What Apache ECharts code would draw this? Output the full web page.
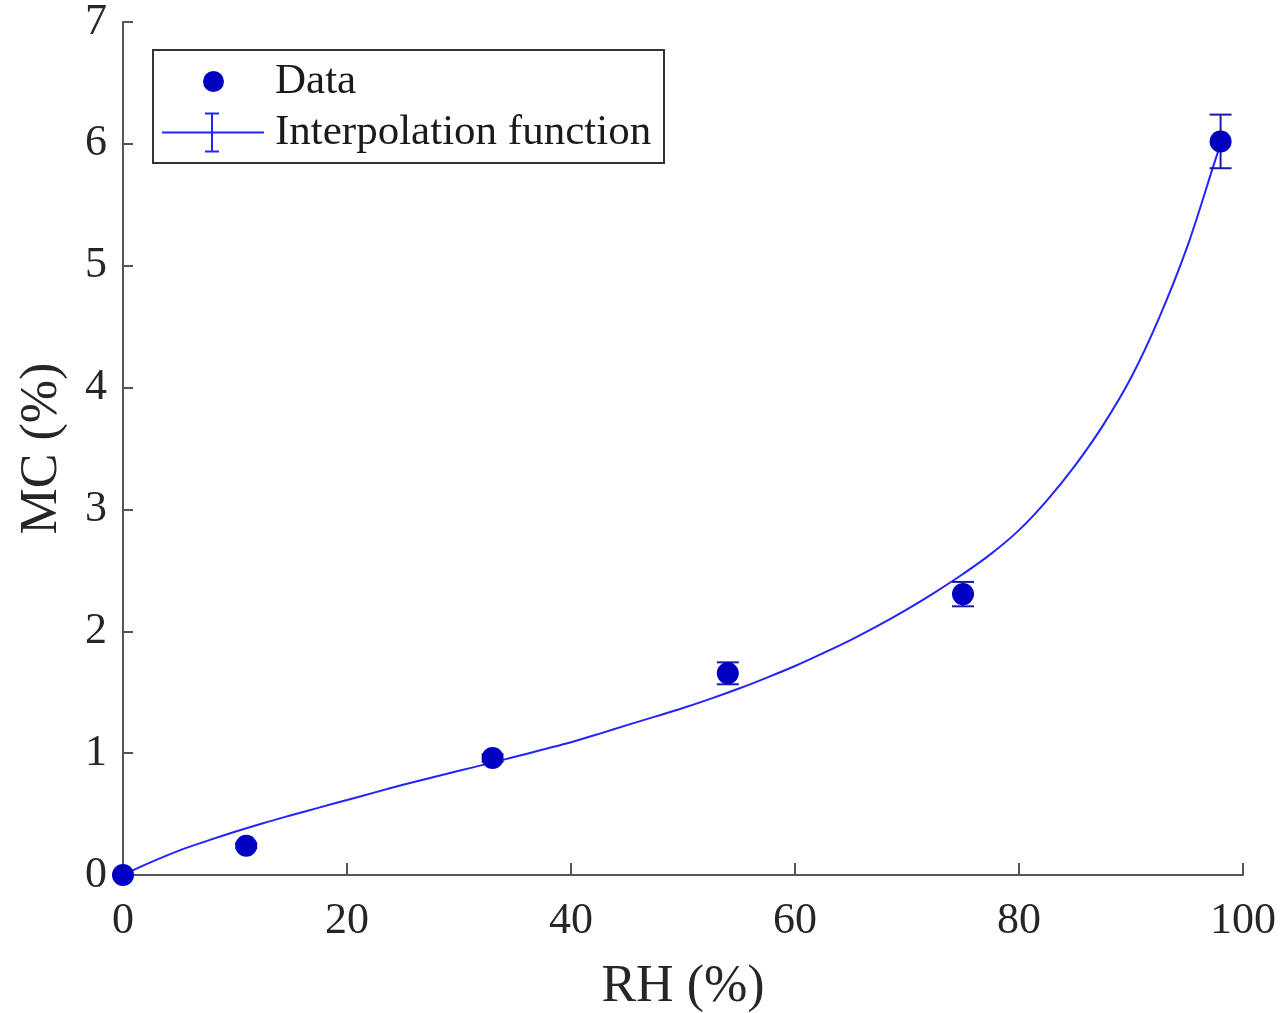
<!DOCTYPE html>
<html>
<head>
<meta charset="utf-8">
<script src="https://cdn.jsdelivr.net/npm/echarts@6/dist/echarts.min.js"></script>
<style>html,body{margin:0;padding:0;background:#fff}#c{width:1285px;height:1013px}</style>
</head>
<body>
<div id="c"></div>
<script>
// Measured data (RH %, MC %, error)
var rh = [0, 11, 33, 54, 75, 98];
var mc = [0, 0.24, 0.96, 1.655, 2.305, 6.02];
var mcErr = [0, 0.02, 0.03, 0.09, 0.10, 0.22];
// Interpolation function
var fitX = [0, 2.5, 5, 7.5, 10, 12.5, 15, 17.5, 20, 22.5, 25, 27.5, 30, 32.5, 35, 37.5, 40, 42.5, 45, 47.5, 50,
            52.5, 55, 57.5, 60, 62.5, 65, 67.5, 70, 72.5, 75, 77.5, 80, 82.5, 85, 87.5, 90, 92.5, 95, 97.5, 98];
var fitY = [0, 0.105, 0.2, 0.28, 0.355, 0.425, 0.49, 0.553, 0.615, 0.678, 0.74, 0.798, 0.855, 0.912, 0.97, 1.03, 1.09, 1.158, 1.23, 1.3, 1.37,
            1.447, 1.53, 1.62, 1.715, 1.82, 1.93, 2.05, 2.18, 2.32, 2.47, 2.635, 2.83, 3.075, 3.36, 3.69, 4.08, 4.57, 5.15, 5.86, 6.0];
var xTicks = [0, 20, 40, 60, 80, 100];
var yTicks = [0, 1, 2, 3, 4, 5, 6, 7];

var FONT = 'Liberation Serif';
var markerColor = '#0000c0';
var lineColor = '#2424ff';

var scatterData = rh.map(function (x, i) { return [x, mc[i]]; });
var errData = rh.map(function (x, i) { return [x, mc[i] - mcErr[i], mc[i] + mcErr[i]]; });
var fitData = fitX.map(function (x, i) { return [x, fitY[i]]; });

var chart = echarts.init(document.getElementById('c'), null, { renderer: 'canvas' });
chart.setOption({
  backgroundColor: '#fff',
  animation: false,
  grid: { left: 123, right: 42, top: 22, bottom: 138, containLabel: false, outerBoundsMode: 'none' },
  xAxis: {
    type: 'value', min: xTicks[0], max: xTicks[xTicks.length - 1], interval: 20,
    name: 'RH (%)', nameLocation: 'middle', nameGap: 86,
    nameTextStyle: { fontFamily: FONT, fontSize: 52, color: '#262626' },
    axisLine: { show: true, onZero: false, lineStyle: { color: '#555', width: 2 } },
    axisTick: { show: true, inside: true, length: 12, lineStyle: { color: '#555', width: 2 } },
    axisLabel: { fontFamily: FONT, fontSize: 44, color: '#262626', margin: 24 },
    splitLine: { show: false }
  },
  yAxis: {
    type: 'value', min: yTicks[0], max: yTicks[yTicks.length - 1], interval: 1,
    name: 'MC (%)', nameLocation: 'middle', nameGap: 55,
    nameTextStyle: { fontFamily: FONT, fontSize: 52, color: '#262626' },
    axisLine: { show: true, onZero: false, lineStyle: { color: '#555', width: 2 } },
    axisTick: { show: true, inside: true, length: 10, lineStyle: { color: '#555', width: 2 } },
    axisLabel: { fontFamily: FONT, fontSize: 44, color: '#262626', margin: 16 },
    splitLine: { show: false }
  },
  graphic: [{
    type: 'rect', left: 152, top: 49, z: 0,
    shape: { width: 511, height: 113 },
    style: { fill: '#fff', stroke: '#333', lineWidth: 2 }
  }],
  legend: [{
    data: [{ name: 'Data', icon: 'circle', itemStyle: { color: markerColor, opacity: 1 } }],
    left: 203, top: 60, padding: 0, itemWidth: 21, itemHeight: 21,
    textStyle: { fontFamily: FONT, fontSize: 43, color: '#1a1a1a', padding: [0, 0, 0, 46] },
    z: 10
  }, {
    data: [{ name: 'Interpolation function',
      icon: 'path://M0,19 L102,19 L102,21 L0,21 Z M49,1 L51,1 L51,39 L49,39 Z M43,0 L57,0 L57,2 L43,2 Z M43,38 L57,38 L57,40 L43,40 Z' }],
    left: 162, top: 111, padding: 0, itemWidth: 102, itemHeight: 40,
    textStyle: { fontFamily: FONT, fontSize: 43, color: '#1a1a1a', padding: [0, 0, 0, 6] },
    z: 10
  }],
  series: [{
    name: 'Interpolation function', type: 'line', data: fitData,
    smooth: 0.35, showSymbol: false, symbol: 'none',
    lineStyle: { color: lineColor, width: 2 }, itemStyle: { color: lineColor }, z: 2
  }, {
    name: 'errbars', type: 'custom', data: errData, z: 3,
    renderItem: function (params, api) {
      var x = api.value(0);
      var lo = api.coord([x, api.value(1)]);
      var hi = api.coord([x, api.value(2)]);
      var w = 11;
      var st = { stroke: '#1a1aa8', lineWidth: 2 };
      return { type: 'group', children: [
        { type: 'line', shape: { x1: lo[0], y1: lo[1], x2: hi[0], y2: hi[1] }, style: st },
        { type: 'line', shape: { x1: lo[0] - w, y1: lo[1], x2: lo[0] + w, y2: lo[1] }, style: st },
        { type: 'line', shape: { x1: hi[0] - w, y1: hi[1], x2: hi[0] + w, y2: hi[1] }, style: st }
      ] };
    }
  }, {
    name: 'Data', type: 'scatter', data: scatterData, symbol: 'circle', symbolSize: 22,
    itemStyle: { color: markerColor, opacity: 1 }, z: 4
  }]
});
</script>
</body>
</html>
